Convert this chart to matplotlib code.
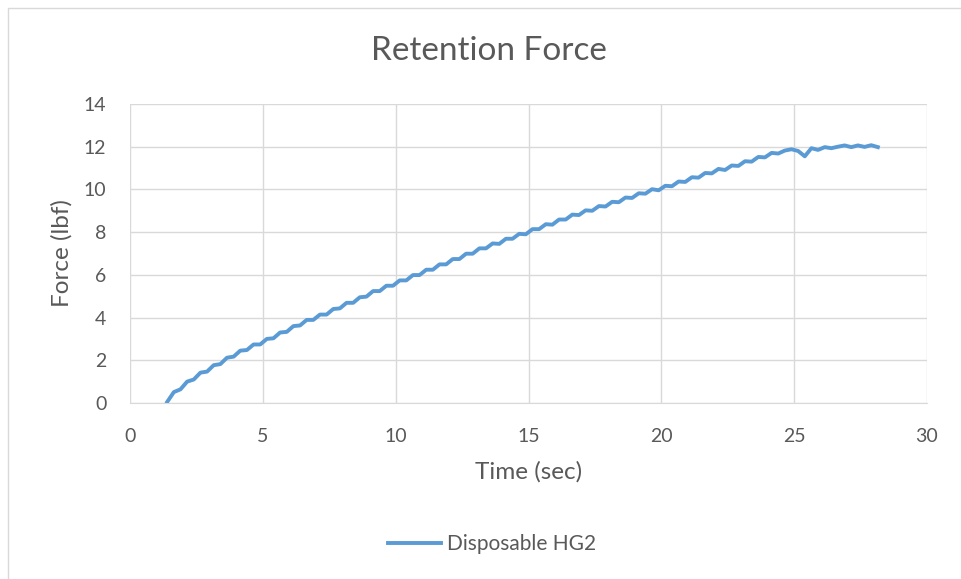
import matplotlib.pyplot as plt
from matplotlib.patches import Rectangle

plt.rcParams['font.family'] = ['Lato', 'DejaVu Sans']

serie = "Disposable HG2"

tempo = [1.40, 1.65, 1.90, 2.15, 2.40, 2.65, 2.90, 3.15, 3.40, 3.65,
         3.90, 4.15, 4.40, 4.65, 4.90, 5.15, 5.40, 5.65, 5.90, 6.15,
         6.40, 6.65, 6.90, 7.15, 7.40, 7.65, 7.90, 8.15, 8.40, 8.65,
         8.90, 9.15, 9.40, 9.65, 9.90, 10.15, 10.40, 10.65, 10.90, 11.15,
         11.40, 11.65, 11.90, 12.15, 12.40, 12.65, 12.90, 13.15, 13.40, 13.65,
         13.90, 14.15, 14.40, 14.65, 14.90, 15.15, 15.40, 15.65, 15.90, 16.15,
         16.40, 16.65, 16.90, 17.15, 17.40, 17.65, 17.90, 18.15, 18.40, 18.65,
         18.90, 19.15, 19.40, 19.65, 19.90, 20.15, 20.40, 20.65, 20.90, 21.15,
         21.40, 21.65, 21.90, 22.15, 22.40, 22.65, 22.90, 23.15, 23.40, 23.65,
         23.90, 24.15, 24.40, 24.65, 24.90, 25.15, 25.40, 25.65, 25.90, 26.15,
         26.40, 26.65, 26.90, 27.15, 27.40, 27.65, 27.90, 28.15]

forca = [0.05, 0.51, 0.64, 1.00, 1.10, 1.42, 1.47, 1.77, 1.82, 2.12,
         2.17, 2.45, 2.48, 2.74, 2.74, 3.00, 3.03, 3.30, 3.33, 3.60,
         3.63, 3.89, 3.89, 4.14, 4.14, 4.40, 4.43, 4.69, 4.69, 4.95,
         4.98, 5.24, 5.24, 5.49, 5.49, 5.74, 5.74, 5.99, 5.99, 6.24,
         6.24, 6.49, 6.49, 6.74, 6.74, 6.99, 6.99, 7.24, 7.24, 7.47,
         7.45, 7.69, 7.69, 7.92, 7.90, 8.14, 8.14, 8.37, 8.35, 8.59,
         8.59, 8.82, 8.80, 9.02, 9.00, 9.22, 9.20, 9.42, 9.40, 9.62,
         9.60, 9.82, 9.80, 10.01, 9.96, 10.17, 10.15, 10.37, 10.35, 10.57,
         10.55, 10.77, 10.75, 10.96, 10.91, 11.12, 11.10, 11.32, 11.30, 11.52,
         11.50, 11.71, 11.68, 11.82, 11.88, 11.80, 11.55, 11.93, 11.85, 11.98,
         11.93, 12.00, 12.06, 11.98, 12.06, 11.99, 12.07, 11.98]

cinza = '#595959'

fig = plt.figure(figsize=(9.61, 5.79), dpi=100)
# moldura clara do gráfico (estilo Excel)
fig.patches.append(Rectangle((8 / 961, -0.01), 1.0, 1 - 8 / 579 + 0.01,
                             transform=fig.transFigure, fill=False,
                             edgecolor='#D9D9D9', linewidth=1))
ax = fig.add_axes([0.1353, 0.304, 0.8293, 0.5164])

ax.plot(tempo, forca, color='#5B9BD5', linewidth=2.8, label=serie,
        solid_joinstyle='round')

ax.set_xlim(0, 30)
ax.set_ylim(0, 14)
ax.set_xticks(range(0, 31, 5))
ax.set_yticks(range(0, 15, 2))
ax.grid(True, color='#D9D9D9', linewidth=1)
ax.set_axisbelow(True)
for lado in ['top', 'right', 'left']:
    ax.spines[lado].set_visible(False)
ax.spines['bottom'].set_color('#D9D9D9')
ax.tick_params(length=0, labelsize=14, labelcolor=cinza)
ax.tick_params(axis='x', pad=18)
ax.tick_params(axis='y', pad=17)

fig.text(489 / 961, 1 - 51 / 579, "Retention Force", fontsize=24,
         color=cinza, ha='center', va='center')
ax.set_xlabel("Time (sec)", fontsize=17.5, color=cinza)
ax.set_ylabel("Force (lbf)", fontsize=17.5, color=cinza)
ax.xaxis.set_label_coords(0.5, -0.195)
ax.yaxis.set_label_coords(-0.072, 0.5)

ax.legend(loc='center', bbox_to_anchor=((492 - 130) / 797, -0.4716),
          frameon=False, fontsize=15, labelcolor=cinza,
          handlelength=2.55, handletextpad=0.3)

fig.savefig('out.png', dpi=100)
